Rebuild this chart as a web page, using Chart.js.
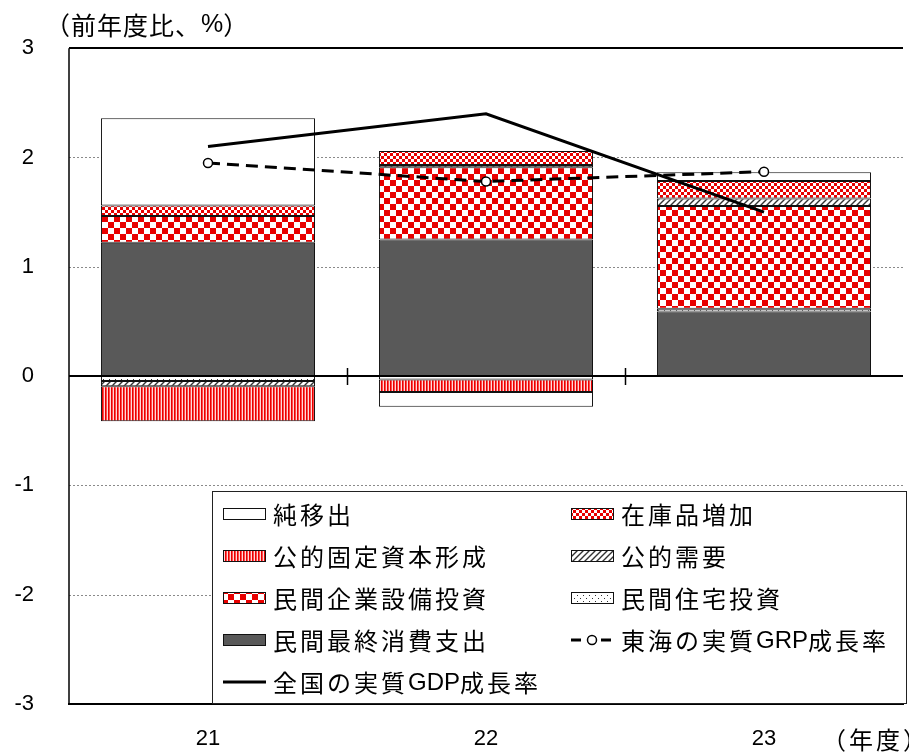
<!DOCTYPE html>
<html>
<head>
<meta charset="utf-8">
<script src="https://cdn.jsdelivr.net/npm/chart.js@4/dist/chart.umd.min.js"></script>
<style>
  html, body { margin: 0; padding: 0; background: #fff; }
  #wrap { width: 909px; height: 752px; position: relative; }
</style>
</head>
<body>
<div id="wrap"><canvas id="c" width="909" height="752"></canvas></div>
<script>
// 年度
const years = ['21', '22', '23'];

// 寄与度（前年度比、%ポイント）
const consumption        = [1.22, 1.25, 0.59];     // 民間最終消費支出
const housing            = [-0.045, -0.033, 0.025]; // 民間住宅投資
const capex              = [0.245, 0.66, 0.94];    // 民間企業設備投資
const publicDemand       = [-0.048, 0.02, 0.07];   // 公的需要
const publicFixedCapital = [-0.32, -0.113, null];  // 公的固定資本形成
const inventory          = [0.095, 0.13, 0.16];    // 在庫品増加
const netExports         = [0.80, -0.135, 0.08];   // 純移出

// 成長率（%）
const gdpNational = [2.10, 2.40, 1.50]; // 全国の実質GDP成長率
const grpTokai    = [1.95, 1.78, 1.87]; // 東海の実質GRP成長率

const yTicks = [-3, -2, -1, 0, 1, 2, 3];

const RED = '#e80000';
const FONT_LATIN = '"Liberation Sans", Arial, "Noto Sans CJK JP", sans-serif';
const FONT_JP = '"Noto Sans CJK JP", "Liberation Sans", sans-serif';

const canvas = document.getElementById('c');
const mainCtx = canvas.getContext('2d');

function makePattern(w, h, draw) {
  const c = document.createElement('canvas');
  c.width = w; c.height = h;
  const g = c.getContext('2d');
  draw(g, w, h);
  return mainCtx.createPattern(c, 'repeat');
}

// 大きい市松（設備投資）
const patCapex = makePattern(12, 12, (g) => {
  g.fillStyle = RED; g.fillRect(0, 0, 12, 12);
  g.fillStyle = '#fff'; g.fillRect(0, 0, 6, 6); g.fillRect(6, 6, 6, 6);
});
// 小さい市松（在庫）
const patInventory = makePattern(6, 6, (g) => {
  g.fillStyle = RED; g.fillRect(0, 0, 6, 6);
  g.fillStyle = '#fff'; g.fillRect(0, 0, 3, 3); g.fillRect(3, 3, 3, 3);
});
// 縦縞（公的固定資本形成）
const patStripes = makePattern(3, 4, (g) => {
  g.fillStyle = RED; g.fillRect(0, 0, 1, 4);
  g.fillStyle = '#ff4a4a'; g.fillRect(1, 0, 1, 4);
  g.fillStyle = '#ffd8d8'; g.fillRect(2, 0, 1, 4);
});
// 斜線（公的需要）
const patHatch = makePattern(6, 6, (g) => {
  g.fillStyle = '#fff'; g.fillRect(0, 0, 6, 6);
  g.strokeStyle = '#333'; g.lineWidth = 1.4;
  g.beginPath();
  g.moveTo(-1, 7); g.lineTo(7, -1);
  g.moveTo(-4, 4); g.lineTo(4, -4);
  g.moveTo(2, 10); g.lineTo(10, 2);
  g.stroke();
});
// 点描（住宅投資）
const patDots = makePattern(6, 6, (g) => {
  g.fillStyle = '#fff'; g.fillRect(0, 0, 6, 6);
  g.fillStyle = '#333'; g.fillRect(1, 1, 1, 1); g.fillRect(4, 4, 1, 1);
});

function barSet(label, data, fill) {
  return {
    type: 'bar', label, data,
    backgroundColor: fill, borderColor: '#111', borderWidth: 1,
    borderSkipped: false, stack: 'contrib', order: 2,
    categoryPercentage: 1, barPercentage: 0.77
  };
}

const datasets = [
  {
    type: 'line', label: '全国の実質GDP成長率', data: gdpNational,
    borderColor: '#000', borderWidth: 3, pointRadius: 0, fill: false,
    tension: 0, stack: 'gdp', order: 0
  },
  {
    type: 'line', label: '東海の実質GRP成長率', data: grpTokai,
    borderColor: '#000', borderWidth: 3, borderDash: [12, 7], fill: false,
    pointRadius: 4.5, pointBackgroundColor: '#fff', pointBorderColor: '#000',
    pointBorderWidth: 1.5, tension: 0, stack: 'grp', order: 0
  },
  barSet('民間最終消費支出', consumption, '#595959'),
  barSet('民間住宅投資', housing, patDots),
  barSet('民間企業設備投資', capex, patCapex),
  barSet('公的需要', publicDemand, patHatch),
  barSet('公的固定資本形成', publicFixedCapital, patStripes),
  barSet('在庫品増加', inventory, patInventory),
  barSet('純移出', netExports, '#fff')
];

// 凡例の並び（2列）
const legendLeft  = ['純移出', '公的固定資本形成', '民間企業設備投資', '民間最終消費支出', '全国の実質GDP成長率'];
const legendRight = ['在庫品増加', '公的需要', '民間住宅投資', '東海の実質GRP成長率'];

function hline(ctx, x1, x2, y) { ctx.beginPath(); ctx.moveTo(x1, y); ctx.lineTo(x2, y); ctx.stroke(); }
function vline(ctx, x, y1, y2) { ctx.beginPath(); ctx.moveTo(x, y1); ctx.lineTo(x, y2); ctx.stroke(); }

// 和文と欧文を別フォント・別字間で描く
function drawMixed(ctx, text, x, y, size, jpSpacing) {
  const runs = text.match(/[A-Za-z0-9%]+|[^A-Za-z0-9%]+/g);
  runs.forEach(run => {
    if (/^[A-Za-z0-9%]+$/.test(run)) {
      ctx.font = size + 'px ' + FONT_LATIN;
      ctx.letterSpacing = '0px';
    } else {
      ctx.font = size + 'px ' + FONT_JP;
      ctx.letterSpacing = jpSpacing + 'px';
    }
    ctx.fillText(run, x, y);
    x += ctx.measureText(run).width;
  });
  ctx.letterSpacing = '0px';
}

const decor = {
  id: 'decor',
  beforeDatasetsDraw(chart) {
    const { ctx, chartArea: a, scales: { y } } = chart;
    ctx.save();
    // 補助線（点線）
    ctx.strokeStyle = '#8a8a8a'; ctx.lineWidth = 1; ctx.setLineDash([2, 2]);
    yTicks.forEach(v => {
      if (v === 0 || v === yTicks[0] || v === yTicks[yTicks.length - 1]) return;
      hline(ctx, a.left, a.right, Math.round(y.getPixelForValue(v)) + 0.5);
    });
    ctx.setLineDash([]);
    // 枠
    ctx.strokeStyle = '#000';
    ctx.lineWidth = 2;
    hline(ctx, a.left, a.right, Math.round(y.getPixelForValue(yTicks[yTicks.length - 1])));
    hline(ctx, a.left, a.right, Math.round(y.getPixelForValue(yTicks[0])));
    ctx.lineWidth = 1.5;
    vline(ctx, a.left, a.top, a.bottom);
    ctx.restore();
  },
  afterDatasetsDraw(chart) {
    const { ctx, chartArea: a, scales: { x, y } } = chart;
    ctx.save();
    const y0 = Math.round(y.getPixelForValue(0));
    ctx.strokeStyle = '#000'; ctx.lineWidth = 2;
    hline(ctx, a.left, a.right, y0);
    ctx.lineWidth = 1.5;
    for (let i = 0; i < years.length - 1; i++) {
      const px = Math.round((x.getPixelForValue(i) + x.getPixelForValue(i + 1)) / 2) + 0.5;
      vline(ctx, px, y0 - 8, y0 + 9);
    }
    ctx.restore();
  },
  afterDraw(chart) {
    const { ctx } = chart;
    ctx.save();
    ctx.fillStyle = '#000';
    ctx.textBaseline = 'middle'; ctx.textAlign = 'left';
    // 単位
    drawMixed(ctx, '（前年度比、%）', 45, 25, 25, 1);
    // 年度
    ctx.font = '24px ' + FONT_JP;
    ctx.letterSpacing = '3px';
    ctx.textAlign = 'right';
    ctx.fillText('（年度）', 930, 740);
    ctx.letterSpacing = '0px';

    // 凡例
    const bx = 212, by = 491, bw = 694, bh = 212;
    ctx.fillStyle = '#fff';
    ctx.fillRect(bx, by, bw, bh);
    ctx.strokeStyle = '#222'; ctx.lineWidth = 1;
    ctx.strokeRect(bx + 0.5, by + 0.5, bw, bh);

    const rowY = [514, 556, 598, 640, 682];
    const cols = [
      { names: legendLeft, sx: 223, tx: 273 },
      { names: legendRight, sx: 571, tx: 621 }
    ];
    const byLabel = {};
    chart.data.datasets.forEach(d => { byLabel[d.label] = d; });
    ctx.textAlign = 'left'; ctx.textBaseline = 'middle';
    cols.forEach(col => {
      col.names.forEach((name, i) => {
        const d = byLabel[name];
        const cy = rowY[i];
        const sw = 43, sh = 12;
        if (d.type === 'bar') {
          ctx.fillStyle = d.backgroundColor;
          ctx.fillRect(col.sx, cy - sh / 2, sw, sh);
          ctx.strokeStyle = '#111'; ctx.lineWidth = 1;
          ctx.strokeRect(col.sx + 0.5, cy - sh / 2 + 0.5, sw - 1, sh - 1);
        } else {
          ctx.strokeStyle = d.borderColor; ctx.lineWidth = d.borderWidth;
          if (d.borderDash) {
            hline(ctx, col.sx, col.sx + 10, cy);
            hline(ctx, col.sx + 30, col.sx + 40, cy);
            ctx.beginPath();
            ctx.arc(col.sx + 21, cy, d.pointRadius, 0, Math.PI * 2);
            ctx.fillStyle = d.pointBackgroundColor; ctx.fill();
            ctx.lineWidth = d.pointBorderWidth; ctx.stroke();
          } else {
            hline(ctx, col.sx, col.sx + sw, cy);
          }
        }
        ctx.fillStyle = '#000';
        drawMixed(ctx, name, col.tx, cy + 1, 24, 3);
      });
    });
    ctx.restore();
  }
};

new Chart(canvas, {
  data: { labels: years, datasets },
  options: {
    responsive: false,
    animation: false,
    devicePixelRatio: 1,
    layout: { padding: { top: 43, right: 0, left: 0, bottom: 0 } },
    plugins: { legend: { display: false }, tooltip: { enabled: false }, title: { display: false } },
    scales: {
      x: {
        type: 'category',
        offset: true,
        grid: { display: false, drawTicks: false },
        border: { display: true, color: '#000', width: 2 },
        ticks: { color: '#000', font: { family: FONT_LATIN, size: 22 }, padding: 22, maxRotation: 0 },
        afterFit(s) { s.height = 42; }
      },
      y: {
        stacked: true,
        min: -3, max: 3,
        afterBuildTicks(s) { s.ticks = yTicks.map(v => ({ value: v })); },
        grid: { display: false, drawTicks: false },
        border: { display: false },
        ticks: { color: '#000', font: { family: FONT_LATIN, size: 22 }, padding: 35 },
        afterFit(s) { s.width = 69; }
      }
    }
  },
  plugins: [decor]
});
</script>
</body>
</html>
